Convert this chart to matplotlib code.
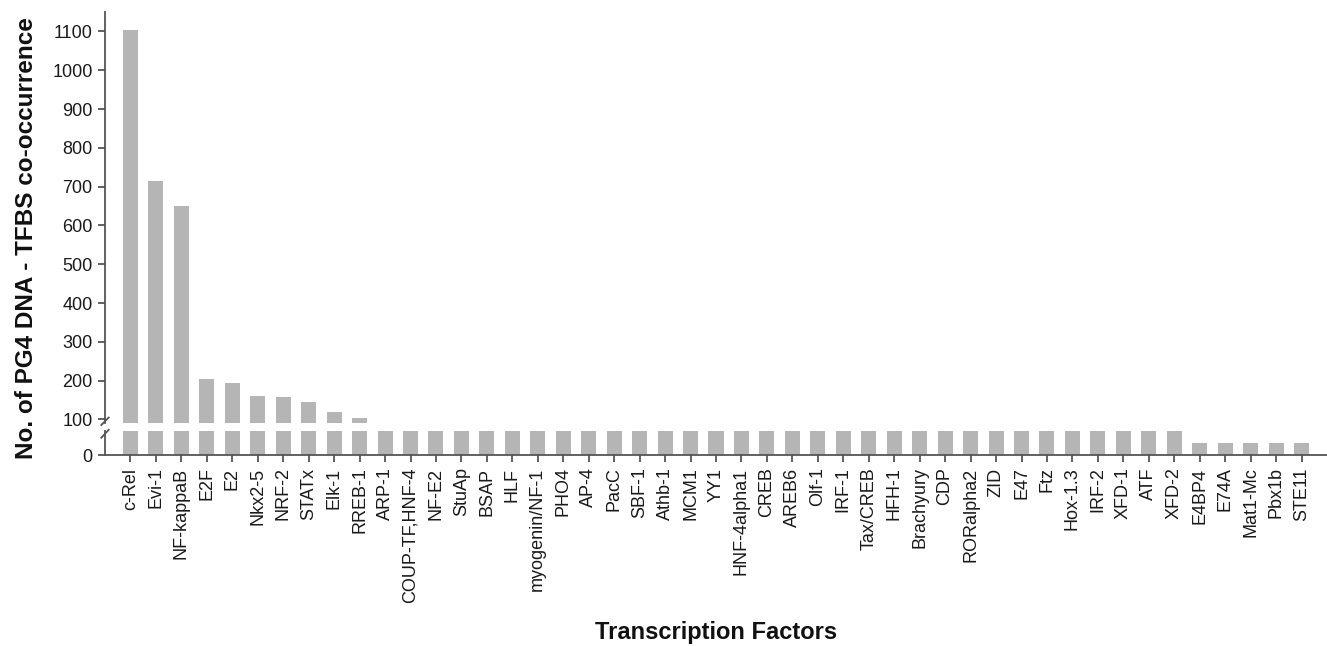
import numpy as np
import matplotlib
matplotlib.use("Agg")
import matplotlib.pyplot as plt

plt.rcParams['font.family'] = ['Liberation Sans', 'DejaVu Sans']

factors = ["c-Rel", "Evi-1", "NF-kappaB", "E2F", "E2", "Nkx2-5", "NRF-2", "STATx",
           "Elk-1", "RREB-1", "ARP-1", "COUP-TF,HNF-4", "NF-E2", "StuAp", "BSAP",
           "HLF", "myogenin/NF-1", "PHO4", "AP-4", "PacC", "SBF-1", "Athb-1", "MCM1",
           "YY1", "HNF-4alpha1", "CREB", "AREB6", "Olf-1", "IRF-1", "Tax/CREB",
           "HFH-1", "Brachyury", "CDP", "RORalpha2", "ZID", "E47", "Ftz", "Hox-1.3",
           "IRF-2", "XFD-1", "ATF", "XFD-2", "E4BP4", "E74A", "Mat1-Mc", "Pbx1b", "STE11"]

top_counts = [1103, 714, 651, 205, 195, 160, 158, 146, 120, 104]
mid_counts = [80] * 32
low_counts = [35] * 5
counts = np.array(top_counts + mid_counts + low_counts)

upper_ticks = list(range(100, 1101, 100))

bar_color = "#b5b5b5"
axis_color = "#555555"
text_color = "#1a1a1a"

fig = plt.figure(figsize=(13.27, 6.46), dpi=100)
W, H = 1327, 646
left = 105 / W
ax_top = fig.add_axes([left, 1 - 423.3 / H, 1 - left, (423.3 - 12) / H])
ax_low = fig.add_axes([left, 1 - 455 / H, 1 - left, (455 - 431) / H])

x = np.arange(len(factors))
for ax in (ax_top, ax_low):
    ax.bar(x, counts, width=0.59, color=bar_color, edgecolor="none")
    ax.set_xlim(-1, len(factors))
    ax.spines["right"].set_visible(False)
    ax.spines["left"].set_color(axis_color)
    ax.spines["bottom"].set_color(axis_color)
    ax.spines["left"].set_linewidth(1.3)
    ax.spines["bottom"].set_linewidth(1.3)
    ax.tick_params(colors=axis_color, labelcolor=text_color, labelsize=13,
                   length=5, width=1.3, direction="out", pad=4)

ax_top.set_ylim(90, 1150)
ax_top.set_yticks(upper_ticks)
ax_top.spines["top"].set_visible(False)
ax_top.spines["bottom"].set_visible(False)
ax_top.tick_params(axis="x", bottom=False, labelbottom=False)

ax_low.set_ylim(0, 70)
ax_low.set_yticks([0])
ax_low.spines["top"].set_visible(False)
ax_low.set_xticks(x)
ax_low.set_xticklabels(factors, rotation=90, va="top", ha="center")

# break marks on the y axis
d = 4 / W
kw = dict(color=axis_color, lw=1.3, clip_on=False)
ax_top.plot([-d, d], [-0.004, 0.014], transform=ax_top.transAxes, **kw)
ax_low.plot([-d, d], [0.72, 1.05], transform=ax_low.transAxes, **kw)

fig.text(27 / W, 1 - 238 / H, "No. of PG4 DNA - TFBS co-occurrence", rotation=90,
         ha="center", va="center", fontsize=17.5, fontweight="bold", color="#111111")
fig.text(716 / W, 1 - 633 / H, "Transcription Factors", ha="center", va="center",
         fontsize=17, fontweight="bold", color="#111111")

fig.savefig("out.png", dpi=100)
